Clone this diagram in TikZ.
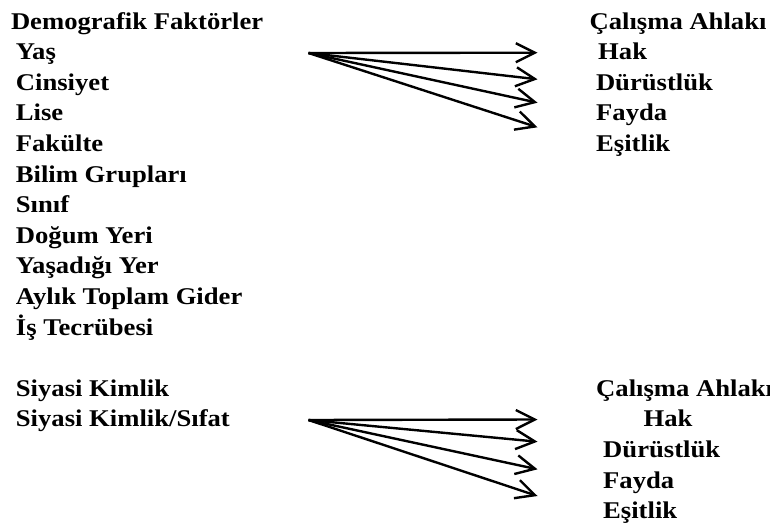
\documentclass[tikz,border=0pt]{standalone}
\usepackage{fontspec}
\setmainfont{Liberation Serif}[FakeStretch=1.11]
\usetikzlibrary{arrows.meta}
\begin{document}
\begin{tikzpicture}[x=1pt,y=-1pt,
  lbl/.style={anchor=base west,inner sep=0pt,font=\fontsize{24}{28}\selectfont\bfseries},
  conn/.style={line width=2.4pt,-{Straight Barb[length=19pt,width=19pt]}}]
\useasboundingbox (0,0) rectangle (770,524);
% left column
\node[lbl] (dem) at (10.8,29.4) {Demografik Faktörler};
\node[lbl] (yas) at (15.7,59.5) {Yaş};
\node[lbl] (cin) at (15.7,90.2) {Cinsiyet};
\node[lbl] (lis) at (15.7,120.8) {Lise};
\node[lbl] (fak) at (15.7,151.4) {Fakülte};
\node[lbl] (bil) at (15.7,182) {Bilim Grupları};
\node[lbl] (sin) at (15.7,212.6) {Sınıf};
\node[lbl] (dog) at (15.7,243.2) {Doğum Yeri};
\node[lbl] (yer) at (15.7,273.8) {Yaşadığı Yer};
\node[lbl] (ayl) at (15.7,304.4) {Aylık Toplam Gider};
\node[lbl] (tec) at (15.7,335) {İş Tecrübesi};
\node[lbl] (sk) at (15.7,396.7) {Siyasi Kimlik};
\node[lbl] (sks) at (15.7,426.9) {Siyasi Kimlik/Sıfat};
% right top
\node[lbl] (ca1) at (589.4,29.4) {Çalışma Ahlakı};
\node[lbl] (hak1) at (598,59.3) {Hak};
\node[lbl] (dur1) at (595.8,90.2) {Dürüstlük};
\node[lbl] (fay1) at (596,120.8) {Fayda};
\node[lbl] (esi1) at (596,151.4) {Eşitlik};
% right bottom
\node[lbl] (ca2) at (596,396.7) {Çalışma Ahlakı};
\node[lbl] (hak2) at (643.4,426.9) {Hak};
\node[lbl] (dur2) at (603,457.5) {Dürüstlük};
\node[lbl] (fay2) at (603,488) {Fayda};
\node[lbl] (esi2) at (603,518.2) {Eşitlik};
% arrows top
\coordinate (s1) at (308.5,53);
\coordinate (a11) at (537.5,52.7);
\coordinate (a12) at (537.5,79.3);
\coordinate (a13) at (537.5,102.7);
\coordinate (a14) at (537.5,127.3);
\foreach \t in {a11,a12,a13,a14} \draw[conn] (s1) -- (\t);
% arrows bottom
\coordinate (s2) at (308.5,420);
\coordinate (a21) at (537.5,419.5);
\coordinate (a22) at (537.5,441.7);
\coordinate (a23) at (537.5,469.3);
\coordinate (a24) at (537.5,496);
\foreach \t in {a21,a22,a23,a24} \draw[conn] (s2) -- (\t);
\end{tikzpicture}
\end{document}
